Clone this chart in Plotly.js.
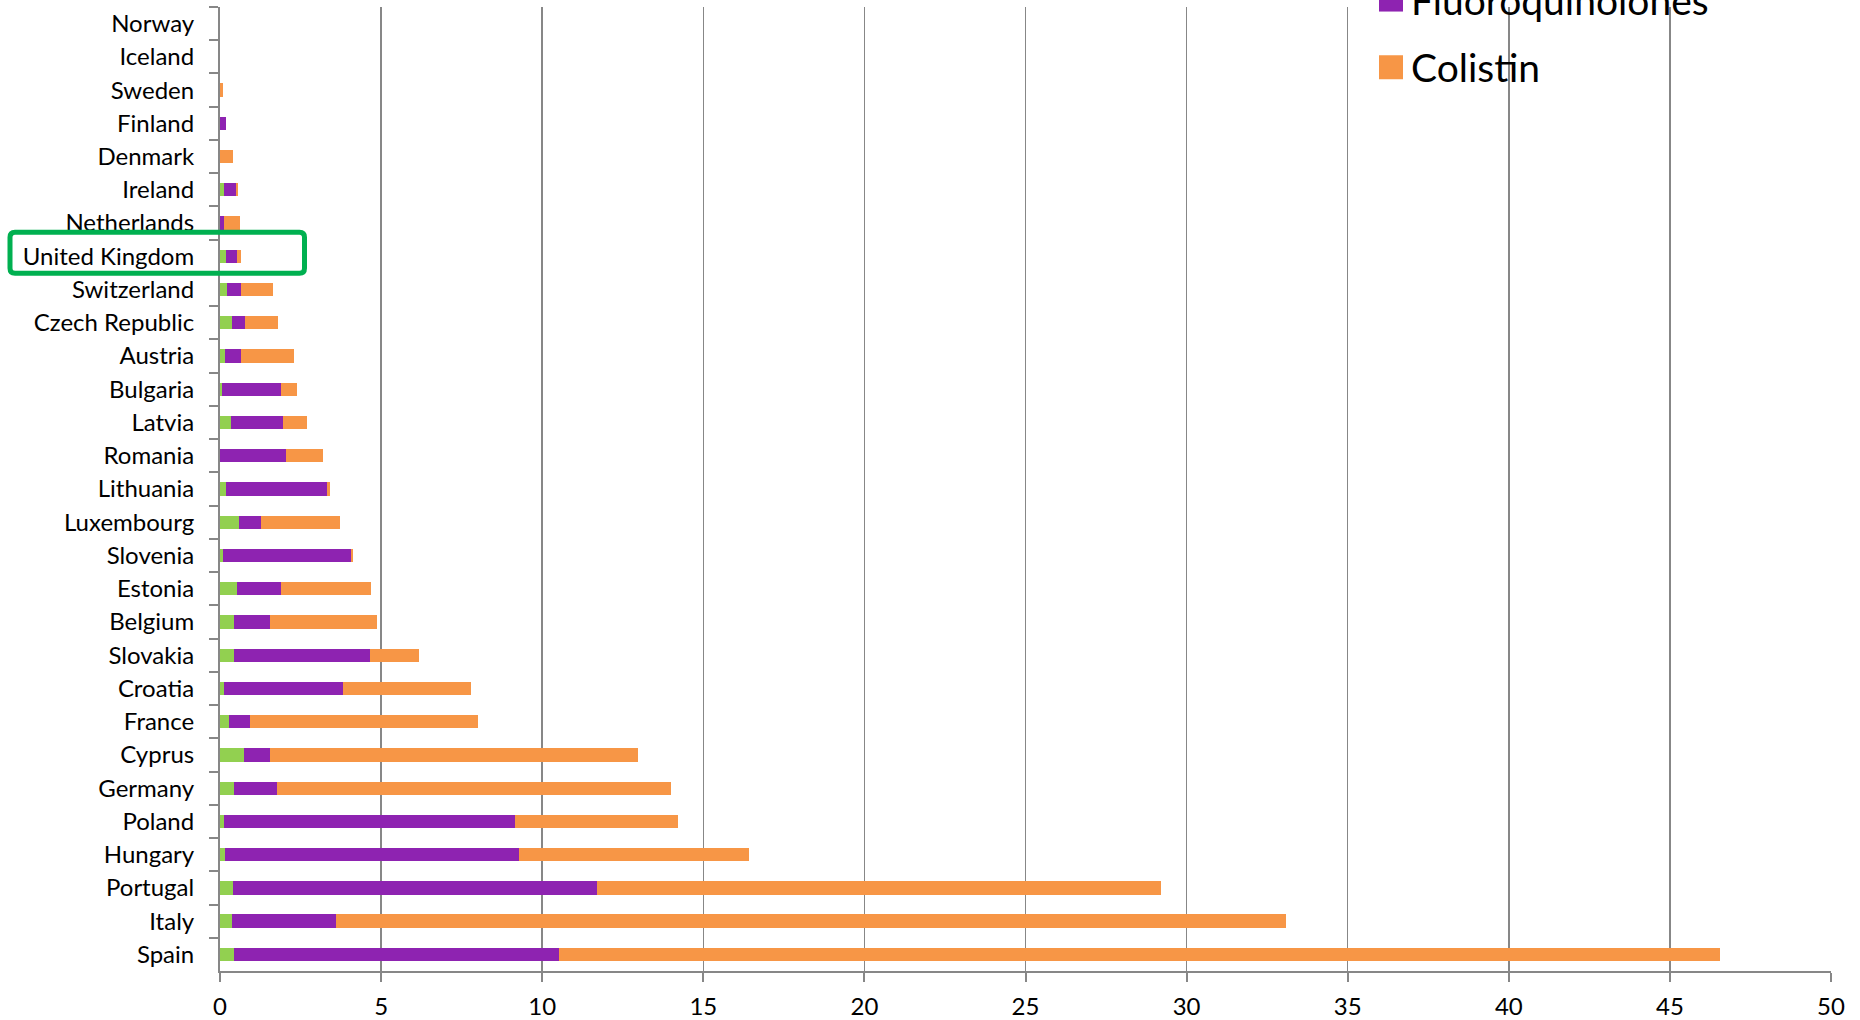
<!DOCTYPE html>
<html>
<head>
<meta charset="utf-8">
<script src="https://cdn.plot.ly/plotly-3.0.1.min.js"></script>
<style>
  html, body { margin: 0; padding: 0; background: #fff; }
  #chart { width: 1860px; height: 1020px; }
</style>
</head>
<body>
<div id="chart"></div>
<script>
// Countries, listed from top to bottom
const countries = [
  "Norway", "Iceland", "Sweden", "Finland", "Denmark", "Ireland", "Netherlands",
  "United Kingdom", "Switzerland", "Czech Republic", "Austria", "Bulgaria", "Latvia",
  "Romania", "Lithuania", "Luxembourg", "Slovenia", "Estonia", "Belgium", "Slovakia",
  "Croatia", "France", "Cyprus", "Germany", "Poland", "Hungary", "Portugal", "Italy", "Spain"
];

// Sales (mg/PCU) per antimicrobial class, same order as countries
const cephalosporins = [
  0, 0, 0, 0, 0, 0.12, 0,
  0.18, 0.22, 0.38, 0.16, 0.07, 0.35,
  0, 0.18, 0.59, 0.10, 0.52, 0.44, 0.43,
  0.12, 0.29, 0.76, 0.42, 0.11, 0.17, 0.41, 0.37, 0.43
];
const fluoroquinolones = [
  0, 0, 0, 0.19, 0, 0.39, 0.11,
  0.35, 0.44, 0.40, 0.49, 1.81, 1.59,
  2.06, 3.14, 0.69, 3.97, 1.36, 1.12, 4.23,
  3.70, 0.64, 0.78, 1.34, 9.05, 9.11, 11.30, 3.24, 10.10
];
const colistin = [
  0, 0, 0.10, 0, 0.40, 0.05, 0.50,
  0.12, 0.98, 1.03, 1.64, 0.50, 0.75,
  1.14, 0.10, 2.45, 0.07, 2.81, 3.32, 1.53,
  3.98, 7.09, 11.42, 12.23, 5.07, 7.14, 17.49, 29.49, 36.01
];

const seriesNames = ["3rd- and 4th-gen. cephalosporins", "Fluoroquinolones", "Colistin"];
const seriesColors = ["#92d050", "#8e23b1", "#f79646"];
const xTicks = [0, 5, 10, 15, 20, 25, 30, 35, 40, 45, 50];

const FONT = "Lato, 'Open Sans', sans-serif";
const GRID = "#878787";

// Plot-area geometry in pixels
const W = 1860, H = 1020;
const M = { l: 220, r: 29, t: 7, b: 49 };
const plotW = W - M.l - M.r, plotH = H - M.t - M.b;
const px2x = px => (px - M.l) / plotW;
const px2y = py => (H - M.b - py) / plotH;

const traces = [cephalosporins, fluoroquinolones, colistin].map((vals, i) => ({
  type: "bar",
  orientation: "h",
  name: seriesNames[i],
  legendgroup: "g" + i,
  y: countries,
  x: vals,
  marker: { color: seriesColors[i], line: { width: 0 } },
  hoverinfo: "x+y+name"
}));

// Rounded highlight frame around the United Kingdom label
function roundedFrame(left, top, right, bottom, r) {
  const X = px2x, Y = px2y;
  return "M" + X(left + r) + "," + Y(top) +
    " L" + X(right - r) + "," + Y(top) +
    " Q" + X(right) + "," + Y(top) + " " + X(right) + "," + Y(top + r) +
    " L" + X(right) + "," + Y(bottom - r) +
    " Q" + X(right) + "," + Y(bottom) + " " + X(right - r) + "," + Y(bottom) +
    " L" + X(left + r) + "," + Y(bottom) +
    " Q" + X(left) + "," + Y(bottom) + " " + X(left) + "," + Y(bottom - r) +
    " L" + X(left) + "," + Y(top + r) +
    " Q" + X(left) + "," + Y(top) + " " + X(left + r) + "," + Y(top) + " Z";
}
const ukIdx = countries.indexOf("United Kingdom");
const rowH = plotH / countries.length;
const ukCenter = M.t + (ukIdx + 0.5) * rowH;

const layout = {
  width: W, height: H,
  margin: { l: M.l, r: M.r, t: M.t, b: M.b, autoexpand: false },
  paper_bgcolor: "#ffffff",
  plot_bgcolor: "#ffffff",
  barmode: "stack",
  bargap: 0.6,
  font: { family: FONT, size: 24, color: "#000000" },
  xaxis: {
    range: [0, 50],
    tickvals: xTicks,
    ticktext: xTicks.map(String),
    showgrid: true, gridcolor: GRID, gridwidth: 1.5,
    zeroline: false,
    showline: true, linecolor: GRID, linewidth: 2,
    ticks: "outside", ticklen: 9, tickwidth: 2, tickcolor: GRID,
    tickfont: { family: FONT, size: 24, color: "#000000" },
    ticklabelstandoff: 4,
    fixedrange: true
  },
  yaxis: {
    type: "category",
    categoryorder: "array",
    categoryarray: countries,
    autorange: "reversed",
    tickson: "boundaries",
    showgrid: false,
    zeroline: false,
    showline: true, linecolor: GRID, linewidth: 2,
    ticks: "outside", ticklen: 9, tickwidth: 2, tickcolor: GRID,
    tickfont: { family: FONT, size: 24, color: "#000000" },
    ticklabelstandoff: 19,
    fixedrange: true
  },
  legend: {
    x: px2x(1371), xanchor: "left",
    y: px2y(-100), yanchor: "top",
    traceorder: "grouped",
    tracegroupgap: 14,
    font: { family: FONT, size: 39, color: "#000000" },
    bgcolor: "rgba(0,0,0,0)",
    borderwidth: 0
  },
  shapes: [{
    type: "path",
    xref: "paper", yref: "paper",
    path: roundedFrame(10, ukCenter - 24, 304.5, ukCenter + 17, 5),
    line: { color: "#00b050", width: 5 },
    fillcolor: "rgba(0,0,0,0)",
    layer: "above"
  }]
};

Plotly.newPlot("chart", traces, layout, { displayModeBar: false, staticPlot: true }).then(() => {
  // Larger square swatches in the legend
  document.querySelectorAll("#chart .legend .legendpoints path").forEach(p => {
    p.setAttribute("d", "M12,12H-12V-12H12Z");
  });
});
</script>
</body>
</html>
